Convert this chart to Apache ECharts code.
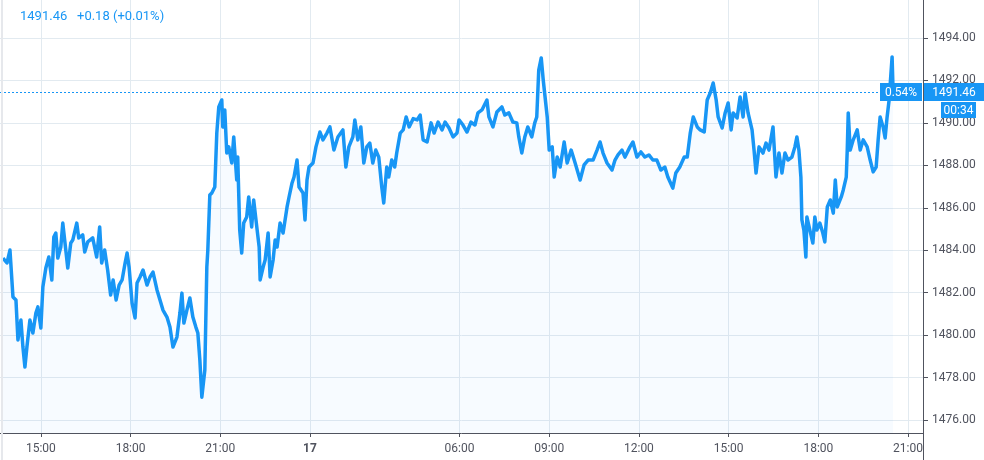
<!DOCTYPE html>
<html>
<head>
<meta charset="utf-8">
<script src="https://cdn.jsdelivr.net/npm/echarts@6/dist/echarts.min.js"></script>
<style>
html,body{margin:0;padding:0;background:#fff;}
#c{width:984px;height:460px;}
</style>
</head>
<body>
<div id="c"></div>
<script>
// trading-time minutes from 15:00 (day 1); one-hour daily break after midnight removed
var times = [-76,-68,-62,-56,-50,-46,-40,-36,-32,-28,-22,-16,-10,-6,0,4,10,16,22,26,30,34,40,44,50,54,60,64,72,76,84,88,94,104,112,118,122,128,134,140,145,151,157,163,169,173,177,183,189,193,199,205,213,219,225,233,239,245,253,259,265,273,279,283,287,293,299,305,311,315,319,323,329,333,335,339,343,349,353,357,363,365,369,373,377,383,387,393,395,399,403,407,413,417,423,427,434,438,440,446,450,456,460,466,470,474,480,486,494,498,504,508,514,518,526,530,534,538,546,552,560,566,574,580,588,596,606,612,618,626,630,636,642,648,654,660,666,672,678,684,688,694,698,704,710,714,721,727,733,739,747,755,761,767,775,783,789,797,805,811,819,827,835,839,847,855,863,871,877,885,895,899,907,915,925,931,939,947,955,959,965,971,977,985,991,995,999,1004,1008,1012,1016,1020,1026,1030,1036,1042,1050,1056,1064,1072,1082,1090,1098,1108,1116,1122,1128,1136,1146,1152,1158,1166,1172,1182,1188,1196,1204,1212,1220,1228,1236,1244,1252,1258,1268,1274,1282,1291,1297,1303,1309,1317,1323,1331,1337,1343,1349,1355,1359,1367,1373,1379,1385,1389,1397,1403,1409,1413,1419,1427,1431,1435,1441,1449,1455,1461,1469,1475,1481,1487,1493,1499,1507,1513,1517,1521,1525,1527,1531,1535,1537,1543,1549,1553,1557,1563,1569,1573,1578,1584,1590,1594,1598,1606,1610,1616,1618,1620,1624,1630,1638,1644,1650,1658,1664,1670,1676,1680,1684,1690,1694,1698,1702,1708,1710];
var prices = [1483.63,1483.40,1484.01,1481.80,1481.66,1479.77,1480.71,1479.44,1478.50,1479.44,1480.71,1480.10,1481.04,1481.33,1480.34,1482.27,1483.16,1483.68,1482.60,1484.62,1484.81,1483.63,1484.15,1485.28,1484.01,1483.16,1484.34,1484.48,1485.28,1484.58,1484.72,1483.92,1484.39,1484.58,1483.68,1485.10,1483.40,1484.01,1483.07,1481.89,1482.60,1481.66,1482.36,1482.60,1483.40,1483.87,1483.21,1481.51,1480.81,1482.46,1482.74,1483.07,1482.36,1482.74,1482.97,1482.13,1481.66,1481.18,1480.85,1480.38,1479.44,1479.91,1481.04,1481.98,1480.57,1481.18,1481.75,1480.85,1480.38,1480.10,1478.83,1477.08,1478.36,1483.21,1484.01,1486.60,1486.70,1486.98,1489.52,1490.75,1491.08,1489.81,1490.61,1488.58,1488.87,1488.11,1489.34,1487.31,1488.39,1484.95,1483.87,1485.28,1485.57,1486.51,1485.10,1486.37,1484.95,1484.15,1482.60,1483.21,1483.54,1484.81,1482.74,1483.54,1484.48,1484.15,1485.28,1484.81,1486.04,1486.51,1487.17,1487.45,1488.25,1486.98,1486.70,1485.43,1487.31,1487.92,1488.11,1488.87,1489.57,1489.20,1489.52,1489.81,1488.72,1489.34,1489.67,1487.92,1488.87,1489.34,1490.14,1489.20,1489.81,1488.11,1488.87,1489.05,1488.11,1488.72,1488.39,1486.98,1486.23,1487.92,1487.45,1488.25,1487.92,1488.58,1489.52,1489.67,1490.28,1489.81,1490.20,1490.14,1490.37,1489.20,1489.10,1490.00,1489.52,1490.04,1489.67,1490.04,1489.76,1489.34,1489.52,1490.14,1489.90,1489.57,1490.04,1489.90,1490.47,1490.61,1491.08,1490.28,1489.81,1490.51,1490.75,1490.37,1490.47,1490.04,1490.00,1489.34,1488.58,1489.34,1489.81,1489.34,1490.00,1490.28,1492.49,1493.06,1492.02,1492.02,1490.28,1488.72,1488.87,1487.45,1488.39,1487.92,1489.10,1488.11,1488.72,1488.11,1487.31,1488.02,1488.25,1488.25,1488.72,1489.10,1488.58,1488.11,1487.78,1488.25,1488.49,1488.72,1488.39,1488.87,1489.10,1488.39,1488.63,1488.39,1488.49,1488.25,1488.25,1487.78,1487.92,1487.45,1486.93,1487.64,1487.92,1488.39,1488.39,1489.52,1490.28,1489.81,1489.67,1489.57,1491.08,1491.41,1491.88,1491.08,1490.28,1489.76,1490.47,1490.94,1489.67,1490.47,1490.23,1491.22,1490.28,1491.41,1490.47,1489.67,1488.72,1487.64,1488.87,1488.58,1489.05,1488.72,1489.81,1487.45,1488.58,1487.64,1488.58,1488.25,1488.39,1488.87,1489.34,1488.72,1487.45,1485.43,1484.95,1483.68,1485.57,1484.95,1484.34,1485.57,1484.95,1485.28,1484.81,1484.39,1486.04,1486.37,1485.75,1487.31,1486.04,1486.51,1486.84,1487.45,1488.72,1490.47,1488.72,1489.20,1489.67,1488.72,1489.20,1488.87,1488.25,1487.69,1487.92,1489.20,1490.28,1489.81,1489.29,1490.28,1491.08,1493.11,1491.46];

var xTickValues = [0,180,360,540,840,1020,1200,1380,1560,1740];
var xTickLabels = ['15:00','18:00','21:00','17','06:00','09:00','12:00','15:00','18:00','21:00'];
var yTickValues = [1476,1478,1480,1482,1484,1486,1488,1490,1492,1494];

var lastPrice = 1491.46;
var change = '+0.18';
var changePct = '+0.01%';
var rangePct = '0.54%';
var countdown = '00:34';

var BLUE = '#1896f5';
var AXIS = '#50535e';
var GRID = '#e2eaf0';
var FONT = 'Roboto, "Liberation Sans", sans-serif';

var chart = echarts.init(document.getElementById('c'), null, {renderer: 'canvas'});
var data = times.map(function (t, i) { return [t, prices[i]]; });

chart.setOption({
  animation: false,
  grid: {left: 0, right: 61, top: 0, bottom: 27, containLabel: false},
  xAxis: {
    type: 'value', min: -82, max: 1770,
    axisLine: {show: true, onZero: false, lineStyle: {color: AXIS, width: 1}},
    axisTick: {show: true, length: 4, lineStyle: {color: AXIS}, customValues: xTickValues},
    axisLabel: {
      customValues: xTickValues, margin: 10, color: AXIS, fontSize: 12, fontFamily: FONT,
      formatter: function (v) {
        var i = xTickValues.indexOf(v);
        var s = i >= 0 ? xTickLabels[i] : '';
        return s === '17' ? '{b|17}' : s;
      },
      rich: {b: {fontWeight: 'bold', color: AXIS, fontSize: 12, fontFamily: FONT}}
    },
    splitLine: {show: true, lineStyle: {color: GRID, width: 1}}
  },
  yAxis: {
    type: 'value', position: 'right', min: 1475.39, max: 1495.79, scale: true,
    axisLine: {show: true, onZero: false, lineStyle: {color: AXIS, width: 1}},
    axisTick: {show: true, length: 5, lineStyle: {color: AXIS}, customValues: yTickValues},
    axisLabel: {
      customValues: yTickValues, margin: 9, color: AXIS, fontSize: 12, fontFamily: FONT,
      padding: [5, 0, 0, 0],
      formatter: function (v) { return v.toFixed(2); }
    },
    splitLine: {show: true, lineStyle: {color: GRID, width: 1}}
  },
  series: [{
    type: 'line', data: data, showSymbol: false, symbol: 'none',
    lineStyle: {color: BLUE, width: 3.5, join: 'round'},
    itemStyle: {color: BLUE},
    areaStyle: {color: 'rgba(33,150,243,0.05)', origin: 'start'},
    z: 3,
    markLine: {
      silent: true, symbol: ['none', 'none'],
      label: {show: false},
      lineStyle: {color: BLUE, type: [2, 2], width: 1},
      data: [{yAxis: lastPrice}]
    }
  }]
});

var py = Math.round(chart.convertToPixel({yAxisIndex: 0}, lastPrice));
var axisX = 984 - 61;
function box(x, y, w, h, txt) {
  return [
    {type: 'rect', z: 100, zlevel: 1, shape: {x: x, y: y, width: w, height: h}, style: {fill: BLUE}},
    {type: 'text', z: 101, zlevel: 1, x: x + w / 2, y: y + h / 2 + 1,
     style: {text: txt, fill: '#fff', font: '12px ' + FONT, align: 'center', verticalAlign: 'middle'}}
  ];
}
var g = [
  {type: 'line', shape: {x1: axisX + 0.5, y1: 433, x2: axisX + 0.5, y2: 460}, style: {stroke: AXIS, lineWidth: 1}, z: 50},
  {type: 'line', shape: {x1: 2, y1: 0, x2: 2, y2: 460}, style: {stroke: '#e6e8ec', lineWidth: 2}, z: 50},
  {type: 'text', x: 20, y: 17, z: 100,
   style: {text: lastPrice.toFixed(2), fill: BLUE, font: '13px ' + FONT, verticalAlign: 'middle'}},
  {type: 'text', x: 77, y: 17, z: 100,
   style: {text: change + ' (' + changePct + ')', fill: BLUE, font: '13px ' + FONT, verticalAlign: 'middle'}}
];
g = g.concat(box(axisX + 1, py - 9, 984 - axisX - 1, 18, lastPrice.toFixed(2)));
g = g.concat(box(axisX - 43, py - 9, 42, 18, rangePct));
g = g.concat(box(axisX + 18, py + 10, 35, 16, countdown));
chart.setOption({graphic: g});
</script>
</body>
</html>
